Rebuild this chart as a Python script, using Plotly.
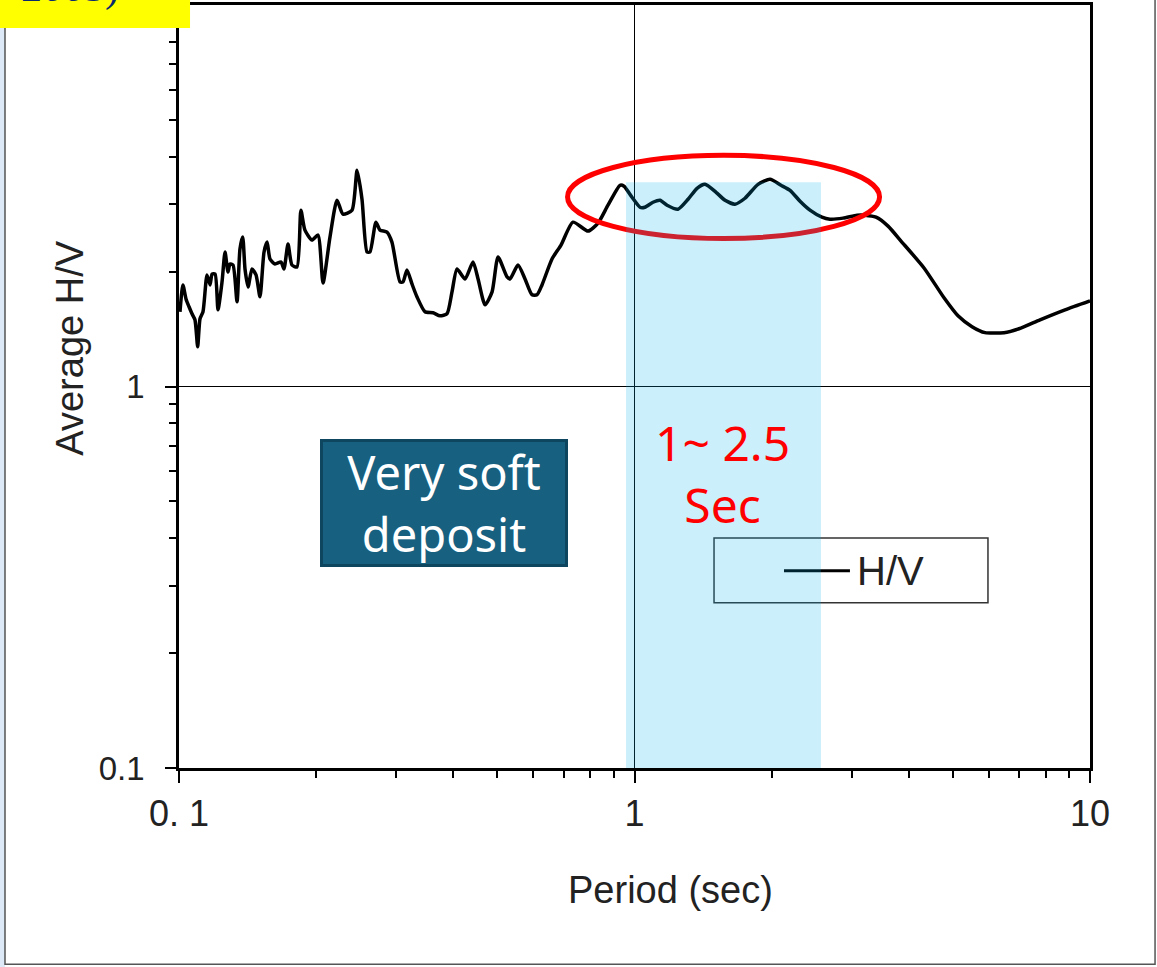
import plotly.graph_objects as go

# ---- data (period in sec, average H/V) ----
period = [0.1005, 0.1020, 0.1036, 0.1052, 0.1068, 0.1084, 0.1099, 0.1112, 0.1129, 0.1152,
          0.1170, 0.1182, 0.1200, 0.1218, 0.1243, 0.1262, 0.1281, 0.1294, 0.1314, 0.1341,
          0.1361, 0.1380, 0.1396, 0.1418, 0.1446, 0.1476, 0.1506, 0.1537, 0.1561, 0.1584,
          0.1625, 0.1675, 0.1700, 0.1735, 0.1770, 0.1816, 0.1852, 0.1890, 0.1959, 0.2019,
          0.2071, 0.2145, 0.2223, 0.2291, 0.2398, 0.2460, 0.2522, 0.2587, 0.2626, 0.2706,
          0.2762, 0.2861, 0.2934, 0.3056, 0.3103, 0.3166, 0.3247, 0.3330, 0.3468, 0.3611,
          0.3741, 0.3876, 0.3975, 0.4077, 0.4246, 0.4421, 0.4535, 0.4698, 0.4868, 0.5017,
          0.5250, 0.5330, 0.5549, 0.5750, 0.5957, 0.6109, 0.6265, 0.6590, 0.6897, 0.7328,
          0.7907, 0.8317, 0.8746, 0.9294, 0.9484, 0.9874, 1.028, 1.054, 1.098, 1.138,
          1.179, 1.246, 1.311, 1.372, 1.428, 1.510, 1.580, 1.662, 1.748, 1.867,
          1.984, 2.097, 2.195, 2.309, 2.428, 2.579, 2.686, 2.870, 3.080, 3.206,
          3.390, 3.603, 3.847, 4.321, 4.781, 5.131, 5.508, 5.882, 6.475, 6.984,
          7.768, 8.814, 10.0]
hv = [1.570, 1.846, 1.697, 1.618, 1.551, 1.496, 1.272, 1.505, 1.570, 1.961,
      1.846, 1.972, 1.972, 1.589, 1.880, 2.252, 1.996, 2.095, 2.082, 1.667,
      2.293, 2.464, 2.033, 1.824, 2.033, 1.961, 1.718, 2.252, 2.391, 2.159,
      2.095, 2.120, 2.033, 2.362, 2.082, 2.057, 2.898, 2.570, 2.420, 2.494,
      1.868, 2.464, 3.078, 2.829, 2.898, 3.686, 3.096, 2.252, 2.252, 2.697,
      2.570, 2.540, 2.391, 1.880, 1.880, 2.021, 1.857, 1.718, 1.570, 1.561,
      1.532, 1.551, 1.770, 2.033, 1.914, 2.120, 1.914, 1.637, 1.770, 2.185,
      1.937, 1.914, 2.082, 1.914, 1.739, 1.739, 1.846, 2.159, 2.348, 2.697,
      2.555, 2.681, 2.987, 3.369, 3.349, 3.134, 2.951, 2.951, 3.041, 3.078,
      2.987, 2.916, 3.096, 3.308, 3.388, 3.229, 3.078, 3.005, 3.115, 3.388,
      3.492, 3.369, 3.268, 3.059, 2.898, 2.779, 2.746, 2.763, 2.813, 2.813,
      2.779, 2.633, 2.406, 2.045, 1.708, 1.532, 1.435, 1.384, 1.384, 1.417,
      1.496, 1.589, 1.677]

band_period = [0.958, 2.567]   # highlighted period band (sec)
band_top = 3.43
x_tickvals = [0.1, 1, 10]
x_ticktext = ["0. 1", "1", "10"]
y_tickvals = [0.1, 1, 10]
y_ticktext = ["0.1", "1", "10"]

fig = go.Figure()
fig.add_trace(go.Scatter(x=period, y=hv, mode="lines", name="H/V",
                         line=dict(color="black", width=3.5, shape="spline", smoothing=0.6),
                         showlegend=False))

axis_common = dict(type="log", showline=True, linecolor="black", linewidth=2.5, mirror=True,
                   showgrid=True, gridcolor="black", gridwidth=1, ticks="outside",
                   tickcolor="black", tickwidth=2, zeroline=False, tickmode="array",
                   minor=dict(ticks="outside", ticklen=7, tickwidth=2, tickcolor="black",
                              dtick="D1", showgrid=False))

fig.update_xaxes(range=[-1, 1], tickvals=x_tickvals, ticktext=x_ticktext, ticklen=12,
                 ticklabelstandoff=0,
                 tickfont=dict(family="Liberation Sans", size=36, color="#222"), **axis_common)
fig.update_yaxes(range=[-1, 1], tickvals=y_tickvals, ticktext=y_ticktext, ticklen=11,
                 ticklabelstandoff=14,
                 tickfont=dict(family="Liberation Sans", size=33, color="#222"), **axis_common)

shapes = []
# outer frame and left strip
shapes.append(dict(type="rect", xref="paper", yref="paper", x0=-0.1965, x1=-0.191,
                   y0=-0.27, y1=1.05, fillcolor="#dde9f6", line=dict(width=0), layer="above"))
shapes.append(dict(type="rect", xref="paper", yref="paper", x0=-0.191, x1=1.0714,
                   y0=-0.2572, y1=1.05, fillcolor="rgba(0,0,0,0)",
                   line=dict(color="#555", width=1.5), layer="above"))
# red ellipse
shapes.append(dict(type="circle", xref="paper", yref="paper", x0=0.4265, x1=0.769,
                   y0=0.694, y1=0.803, line=dict(color="#ff0000", width=5), layer="above"))
# custom legend box + sample line
shapes.append(dict(type="rect", xref="paper", yref="paper", x0=0.5873, x1=0.888,
                   y0=0.2167, y1=0.3016, line=dict(color="#333", width=1.5), layer="above"))
shapes.append(dict(type="line", xref="paper", yref="paper", x0=0.6641, x1=0.7365,
                   y0=0.2585, y1=0.2585, line=dict(color="black", width=3), layer="above"))
# highlighted band (semi-transparent, on top)
shapes.append(dict(type="rect", xref="x", yref="y", x0=band_period[0], x1=band_period[1],
                   y0=0.1, y1=band_top, fillcolor="#00b0f0", opacity=0.2,
                   line=dict(width=0), layer="above"))
# yellow label box at top-left
shapes.append(dict(type="rect", xref="paper", yref="paper", x0=-0.2, x1=0.0121,
                   y0=0.970, y1=1.01, fillcolor="#ffff00", line=dict(width=0), layer="above"))

annotations = [
    dict(text="2005)", xref="paper", yref="paper", x=-0.12, y=0.99, xanchor="center",
         yanchor="bottom", showarrow=False,
         font=dict(family="Liberation Serif", size=42, color="#0a2a6e")),
    dict(text="Average H/V", xref="paper", yref="paper", x=-0.1196, y=0.5496, textangle=-90,
         xanchor="center", yanchor="middle", showarrow=False,
         font=dict(family="Liberation Sans", size=38, color="#222")),
    dict(text="Period (sec)", xref="paper", yref="paper", x=0.540, y=-0.1593,
         xanchor="center", yanchor="middle", showarrow=False,
         font=dict(family="Liberation Sans", size=38, color="#222")),
    dict(text="Very soft<br>deposit", xref="paper", yref="paper", x=0.2909, y=0.3473,
         xanchor="center", yanchor="middle", showarrow=False, width=242, height=122,
         bgcolor="#17607f", bordercolor="#0e4660", borderwidth=3, borderpad=0,
         font=dict(family="Noto Sans", size=47, color="white")),
    dict(text="1~ 2.5<br>Sec", xref="paper", yref="paper", x=0.597, y=0.386,
         xanchor="center", yanchor="middle", showarrow=False,
         font=dict(family="Noto Sans", size=48, color="#ff0000")),
    dict(text="H/V", xref="paper", yref="paper", x=0.742, y=0.2585, xanchor="left",
         yanchor="middle", showarrow=False,
         font=dict(family="Liberation Sans", size=40, color="#222")),
]

fig.update_layout(width=1157, height=967, margin=dict(l=179, r=67, t=2, b=199),
                  plot_bgcolor="white", paper_bgcolor="white",
                  shapes=shapes, annotations=annotations, showlegend=False)

fig.write_html("out.html", config={"displayModeBar": False},
               post_script="document.body.style.margin='0';")
